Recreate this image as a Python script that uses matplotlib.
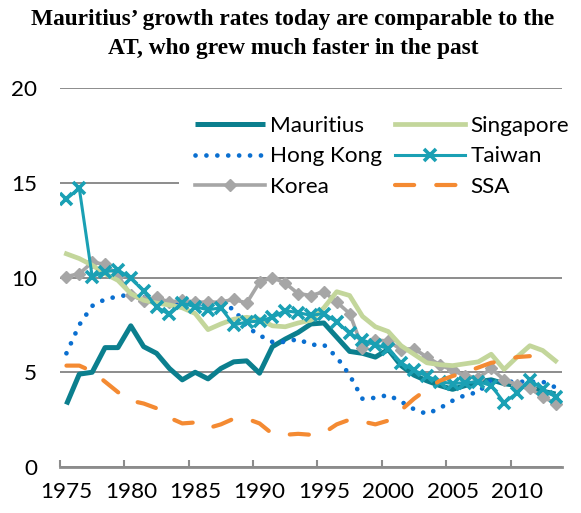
import matplotlib
matplotlib.use("Agg")
import matplotlib.pyplot as plt
import numpy as np

# Data
years = np.arange(1975, 2014)

mauritius = [3.3, 4.9, 5.0, 6.3, 6.3, 7.45, 6.35, 6.0, 5.2, 4.6,
             5.0, 4.65, 5.2, 5.55, 5.6, 4.95, 6.35, 6.75, 7.1, 7.55,
             7.6, 6.85, 6.1, 6.0, 5.8, 6.2, 5.35, 4.85, 4.55, 4.3,
             4.1, 4.3, 4.5, 4.6, 4.4, 4.3, 4.2, 4.0, 3.85]
singapore = [11.25, 11.0, 10.65, 10.2, 9.85, 9.15, 8.8, 8.65, 8.55, 8.4,
             8.1, 7.25, 7.55, 7.8, 7.9, 7.8, 7.45, 7.4, 7.6, 7.75,
             8.4, 9.25, 9.05, 7.95, 7.4, 7.15, 6.4, 5.95, 5.5, 5.4,
             5.35, 5.45, 5.55, 5.95, 5.15, 5.8, 6.4, 6.15, 5.6]
hong_kong = [6.0, 7.5, 8.5, 8.85, 9.0, 9.1, 9.0, 8.8, 8.7, 8.6,
             8.6, 8.55, 8.5, 8.35, 7.4, 6.95, 6.6, 6.6, 6.75, 6.45,
             6.45, 5.8, 4.85, 3.6, 3.65, 3.8, 3.45, 3.05, 2.8, 3.1,
             3.5, 3.8, 3.95, 4.6, 4.5, 4.5, 4.5, 4.5, 4.2]
taiwan = [14.15, 14.7, 10.05, 10.3, 10.4, 9.95, 9.3, 8.45, 8.05, 8.65,
          8.45, 8.3, 8.4, 7.5, 7.65, 7.7, 7.9, 8.25, 8.15, 8.0,
          8.1, 7.65, 7.05, 6.7, 6.45, 6.25, 5.5, 5.1, 4.8, 4.5,
          4.4, 4.45, 4.5, 4.3, 3.4, 3.9, 4.6, 4.1, 3.7]
korea = [10.05, 10.2, 10.8, 10.7, 10.1, 9.1, 8.75, 8.95, 8.7, 8.8,
         8.7, 8.7, 8.7, 8.85, 8.65, 9.75, 10.0, 9.7, 9.15, 9.05,
         9.25, 8.7, 8.1, 6.3, 6.7, 6.65, 6.2, 6.25, 5.8, 5.4,
         5.1, 4.8, 4.7, 5.2, 4.6, 4.35, 4.15, 3.7, 3.35]
ssa_years = np.arange(1975, 2012)
ssa = [5.35, 5.35, 5.05, 4.5, 3.95, 3.5, 3.35, 3.1, 2.6, 2.3,
       2.35, 2.05, 2.25, 2.55, 2.55, 2.3, 1.75, 1.7, 1.75, 1.7,
       1.8, 2.25, 2.5, 2.4, 2.25, 2.45, 3.0, 3.6, 4.1, 4.55,
       4.8, 5.0, 5.25, 5.5, 5.6, 5.8, 5.85]

label_years = [1975, 1980, 1985, 1990, 1995, 2000, 2005, 2010]
y_ticks = [0, 5, 10, 15, 20]

font = "Lato"
fs = 16.2

fig = plt.figure(figsize=(5.81, 5.13), dpi=100)
ax = fig.add_axes([60 / 581, 46 / 513, 502 / 581, 379 / 513])

ax.plot(years, mauritius, color="#0b7f8e", lw=3.6, label="Mauritius", solid_capstyle="butt")
ax.plot(years, hong_kong, color="#0a6fd0", lw=3.4, linestyle=(0, (0.01, 2.3)),
        dash_capstyle="round", label="Hong Kong")
ax.plot(years, korea, color="#a6a6a6", lw=2.6, marker="D", ms=6, label="Korea")
ax.plot(years, singapore, color="#c3d69b", lw=3.4, label="Singapore")
ax.plot(years, taiwan, color="#1aa0b4", lw=2.2, marker="x", ms=8, mew=2.6, label="Taiwan")
ax.plot(ssa_years, ssa, color="#f48a32", lw=3.0, linestyle=(0, (4.6, 5.3)),
        dash_capstyle="round", label="SSA")

ax.set_xlim(1974.5, 2013.5)
ax.set_ylim(0, 20)

# ticks between categories, labels on categories
ax.set_xticks([y - 0.5 for y in label_years])
ax.set_xticklabels([])
ax.set_xticks(label_years, minor=True)
ax.set_xticklabels([str(y) for y in label_years], minor=True, fontsize=fs, family=font)
ax.tick_params(axis="x", which="major", direction="in", length=5, width=1.5, color="#8c8c8c")
ax.tick_params(axis="x", which="minor", length=0, pad=11)

ax.set_yticks(y_ticks)
ax.set_yticklabels([str(v) for v in y_ticks], fontsize=fs, family=font)
ax.tick_params(axis="y", length=0, pad=16.5)
ax.yaxis.grid(True, color="#8c8c8c", lw=1.4)
ax.set_axisbelow(True)

for s in ["top", "right", "left"]:
    ax.spines[s].set_visible(False)
ax.spines["bottom"].set_color("#8c8c8c")
ax.spines["bottom"].set_linewidth(2)

leg = ax.legend(ncol=2, loc="upper left", bbox_to_anchor=(0.238, 0.968),
                prop={"family": font, "size": fs}, frameon=True, framealpha=1,
                edgecolor="none", facecolor="white", fancybox=False,
                handlelength=3.1, handletextpad=0.22, columnspacing=0.6,
                labelspacing=0.47, borderpad=0.7, borderaxespad=0)

fig.text(0.504, 0.983, "Mauritius\u2019 growth rates today are comparable to the\nAT, who grew much faster in the past",
         ha="center", va="top", family="Liberation Serif", weight="bold", fontsize=16.8,
         linespacing=1.5)

fig.savefig("out.png", dpi=100)
